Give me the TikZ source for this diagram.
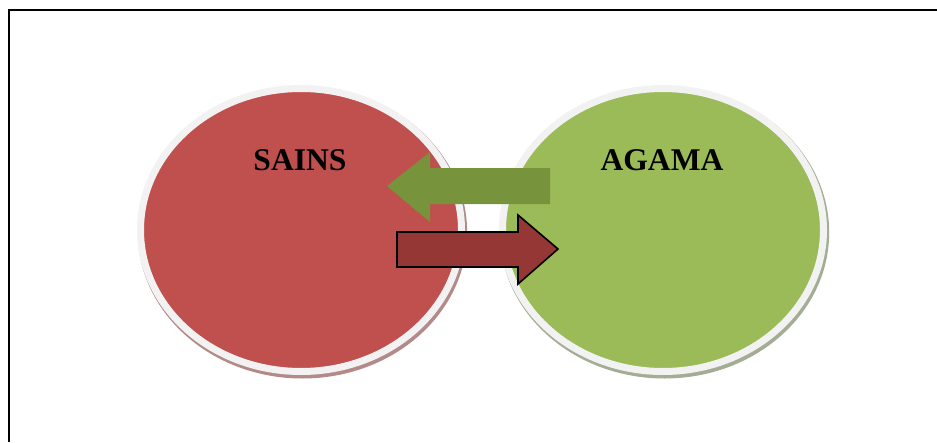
\documentclass[tikz,border=0pt]{standalone}
\usepackage{fontspec}
\setmainfont{Liberation Serif}
\usetikzlibrary{shapes.geometric}

\definecolor{sainsred}{HTML}{C0504D}
\definecolor{agamagreen}{HTML}{9BBB59}
\definecolor{arrowgreen}{HTML}{77933C}
\definecolor{arrowred}{HTML}{953735}
\definecolor{ringgray}{HTML}{F2F2F2}
\definecolor{shadowred}{HTML}{B48A89}
\definecolor{shadowgreen}{HTML}{A3AD93}

\begin{document}
\begin{tikzpicture}[x=0.75pt,y=-0.75pt]
		\tikzstyle{every node}+=[inner sep=0pt]
		\tikzstyle{bubble}=[ellipse, draw=ringgray, line width=5.25pt, minimum width=240.75pt, minimum height=212.25pt]
		\tikzstyle{bubbleshadow}=[ellipse, minimum width=247pt, minimum height=219pt]
		\tikzstyle{label}=[font=\fontsize{23.7}{28}\selectfont\bfseries, anchor=base]
		\useasboundingbox (0,0) rectangle (937,442);
		% frame, cut at the right and bottom
		\draw [black, line width=1.5pt] (937,10) -- (9,10) -- (9,442);
		% shadows
		\node [bubbleshadow, fill=shadowred] (sainsshadow) at (302.5,232.5) {};
		\node [bubbleshadow, fill=shadowgreen] (agamashadow) at (664.5,232.5) {};
		% circles
		\node [bubble, fill=sainsred] (sains) at (301,230) {};
		\node [bubble, fill=agamagreen] (agama) at (663,230) {};
		\node [label] (sainstext) at (300,171) {SAINS};
		\node [label] (agamatext) at (662,171) {AGAMA};
		% arrow from agama to sains
		\fill [arrowgreen] (550,168) -- (430,168) -- (430,152) -- (387,186) -- (430,222) -- (430,204) -- (550,204) -- cycle;
		% arrow from sains to agama
		\draw [black, line width=1.2pt, fill=arrowred, line join=miter] (397,232) -- (518,232) -- (518,215) -- (558,249) -- (518,284) -- (518,267) -- (397,267) -- cycle;
	\end{tikzpicture}
\end{document}
